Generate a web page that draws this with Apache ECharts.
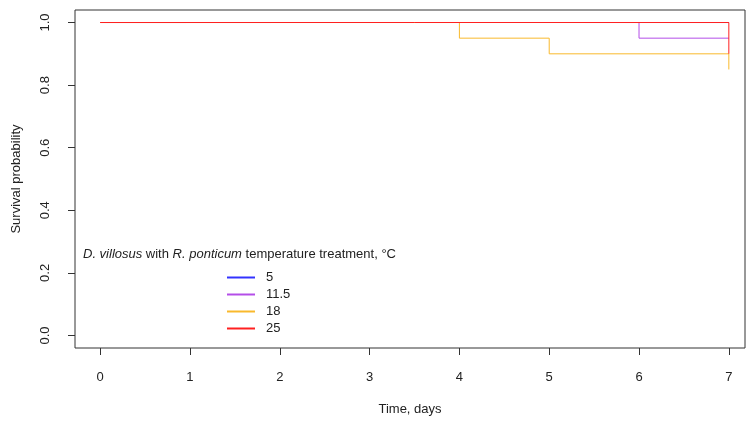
<!DOCTYPE html>
<html>
<head>
<meta charset="utf-8">
<script src="https://cdn.jsdelivr.net/npm/echarts@6/dist/echarts.min.js"></script>
<style>
  html, body { margin: 0; padding: 0; background: #fff; }
  #chart { width: 747px; height: 423px; }
</style>
</head>
<body>
<div id="chart"></div>
<script>
// survival steps per temperature treatment (time in days, survival probability)
const groups = ['5', '11.5', '18', '25']
const colors = ['#3333ff', '#b44ee8', '#f9b92c', '#ff2020']
const times5 = [0, 7]
const surv5 = [1, 1]
const times11 = [0, 6, 7]
const surv11 = [1, 0.95, 0.95]
const times18 = [0, 4, 5, 7]
const surv18 = [1, 0.95, 0.9, 0.85]
const times25 = [0, 7]
const surv25 = [1, 0.9]
const xTicks = [0, 1, 2, 3, 4, 5, 6, 7]
const yTicks = [0, 0.2, 0.4, 0.6, 0.8, 1.0]

const FONT = 'Liberation Sans, Arial, sans-serif'

const pairs = (t, s) => t.map((v, i) => [v, s[i]])
const curves = [pairs(times5, surv5), pairs(times11, surv11), pairs(times18, surv18), pairs(times25, surv25)]

const chart = echarts.init(document.getElementById('chart'), null, { renderer: 'canvas' })

const option = {
  animation: false,
  color: colors,
  grid: {
    left: 75,
    right: 2,
    top: 10,
    bottom: 75,
    show: true,
    borderColor: '#333',
    borderWidth: 1,
    backgroundColor: 'transparent'
  },
  legend: {
    orient: 'vertical',
    left: 222,
    top: 266,
    itemWidth: 28,
    itemHeight: 2,
    itemGap: 4,
    icon: 'rect',
    data: groups,
    textStyle: { fontFamily: FONT, fontSize: 13, color: '#222', padding: [0, 0, 0, 6] }
  },
  graphic: [
    {
      type: 'text',
      left: 83,
      top: 248,
      style: {
        text: '{i|D. villosus} with {i|R. ponticum} temperature treatment, °C',
        fontFamily: FONT,
        fontSize: 13,
        fill: '#222',
        rich: {
          i: { fontStyle: 'italic', fontFamily: FONT, fontSize: 13, fill: '#222' }
        }
      }
    }
  ],
  xAxis: {
    type: 'value',
    min: -0.28,
    max: 7.18,
    name: 'Time, days',
    nameLocation: 'middle',
    nameGap: 55,
    nameTextStyle: { fontFamily: FONT, fontSize: 13, color: '#222' },
    axisLine: { show: false, onZero: false },
    splitLine: { show: false },
    axisTick: {
      show: true,
      length: 7,
      customValues: xTicks,
      lineStyle: { color: '#333' }
    },
    axisLabel: {
      customValues: xTicks,
      margin: 23,
      fontFamily: FONT,
      fontSize: 13,
      color: '#222'
    }
  },
  yAxis: {
    type: 'value',
    min: -0.04,
    max: 1.04,
    name: 'Survival probability',
    nameLocation: 'middle',
    nameGap: 52,
    nameTextStyle: { fontFamily: FONT, fontSize: 13, color: '#222' },
    axisLine: { show: false, onZero: false },
    splitLine: { show: false },
    axisTick: {
      show: true,
      length: 7,
      customValues: yTicks,
      lineStyle: { color: '#333' }
    },
    axisLabel: {
      customValues: yTicks,
      rotate: 90,
      margin: 23,
      fontFamily: FONT,
      fontSize: 13,
      color: '#222',
      formatter: v => v.toFixed(1)
    }
  },
  series: groups.map((g, i) => ({
    name: g,
    type: 'line',
    step: 'end',
    showSymbol: false,
    data: curves[i],
    lineStyle: { width: 1, color: colors[i] },
    itemStyle: { color: colors[i] },
    z: 2 + i
  }))
}

chart.setOption(option)
</script>
</body>
</html>
